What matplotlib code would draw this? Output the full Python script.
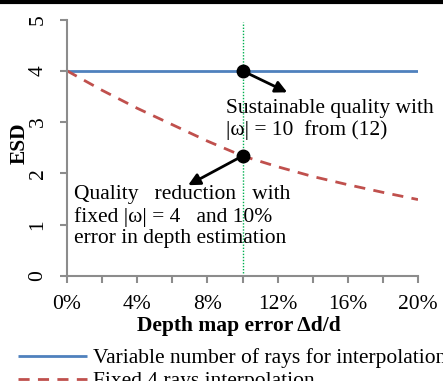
import matplotlib
matplotlib.use("Agg")
import matplotlib.pyplot as plt
from matplotlib.lines import Line2D
import numpy as np

plt.rcParams['font.family'] = ['Liberation Serif', 'DejaVu Serif']

# Data (depth map error in %, ESD)
err_pct = [0, 2, 4, 6, 8, 10, 12, 14, 16, 18, 20]
esd_variable = [4, 4, 4, 4, 4, 4, 4, 4, 4, 4, 4]
esd_fixed = [4.0, 3.62, 3.27, 2.95, 2.63, 2.34, 2.13, 1.94, 1.78, 1.63, 1.49]
x_ticks = [0, 4, 8, 12, 16, 20]
x_tick_labels = ['0%', '4%', '8%', '12%', '16%', '20%']
y_ticks = [0, 1, 2, 3, 4, 5]
legend_labels = ['Variable number of rays for interpolation', 'Fixed 4 rays interpolation']
marker_x = 10

FS = 15.5
W, H = 443, 381
fig = plt.figure(figsize=(W / 100, H / 100), dpi=100)
ax = fig.add_axes([67 / W, 1 - 276 / H, (418 - 67) / W, (276 - 19.5) / H])

blue = '#4F81BD'
red = '#C0504D'
green = '#00B050'
gray = '#8C8C8C'

l1, = ax.plot(err_pct, esd_variable, color=blue, lw=2, solid_capstyle='butt')
l2, = ax.plot(err_pct, esd_fixed, color=red, lw=2, ls=(0, (4, 3)))
ax.plot([marker_x, marker_x], [0, 4.95], color=green, lw=1, ls=(0, (1, 1.2)))

ax.set_xlim(0, 20)
ax.set_ylim(0, 5)
ax.set_xticks(x_ticks)
ax.set_xticklabels(x_tick_labels)
ax.set_xticks(np.arange(0, 21, 2), minor=True)
ax.set_yticks(y_ticks)
ax.set_yticklabels([str(v) for v in y_ticks], rotation=90, va='center')

for s in ['top', 'right']:
    ax.spines[s].set_visible(False)
for s in ['left', 'bottom']:
    ax.spines[s].set_color(gray)
    ax.spines[s].set_linewidth(1.5)

ax.tick_params(axis='x', which='both', direction='out', length=5, width=1.5, color=gray,
               labelsize=FS, pad=9)
ax.tick_params(axis='y', direction='out', length=5, width=1.5, color=gray, labelsize=FS, pad=9)

ax.set_xlabel('Depth map error Δd/d', fontsize=FS, fontweight='bold')
ax.xaxis.set_label_coords(0.49, (276 - 316) / 256.5)
ax.set_ylabel('ESD', fontsize=FS, fontweight='bold')
ax.yaxis.set_label_coords((20 - 67) / 351, (276 - 143) / 256.5)
ax.yaxis.label.set_va('center')

# Points and arrows
ax.plot([marker_x], [4], 'o', color='black', ms=9, zorder=5, clip_on=False)
ax.plot([marker_x], [2.34], 'o', color='black', ms=9, zorder=5)
arrow_style = dict(arrowstyle='-|>,head_length=0.7,head_width=0.35', color='black', lw=2,
                   shrinkA=0, shrinkB=0)
ax.annotate('', xy=(12.55, 3.58), xytext=(marker_x, 4), arrowprops=arrow_style)
ax.annotate('', xy=(6.9, 1.77), xytext=(marker_x, 2.34), arrowprops=arrow_style)

ax.text(9.05, 3.46, 'Sustainable quality with\n|ω| = 10  from (12)', fontsize=FS,
        va='top', ha='left', linespacing=1.2)
ax.text(0.4, 1.78, 'Quality   reduction   with\nfixed |ω| = 4   and 10%\nerror in depth estimation',
        fontsize=FS, va='top', ha='left', linespacing=1.2)

# Top border line
fig.add_artist(Line2D([0, 1], [1 - 2 / H, 1 - 2 / H], color='black', lw=3, transform=fig.transFigure))

fig.legend([l1, l2], legend_labels, loc='upper left', bbox_to_anchor=(18 / W, 1 - 348 / H),
           frameon=False, fontsize=FS, handlelength=3.2, handletextpad=0.3, labelspacing=0.15,
           borderpad=0, borderaxespad=0)

fig.savefig('out.png', dpi=100)
